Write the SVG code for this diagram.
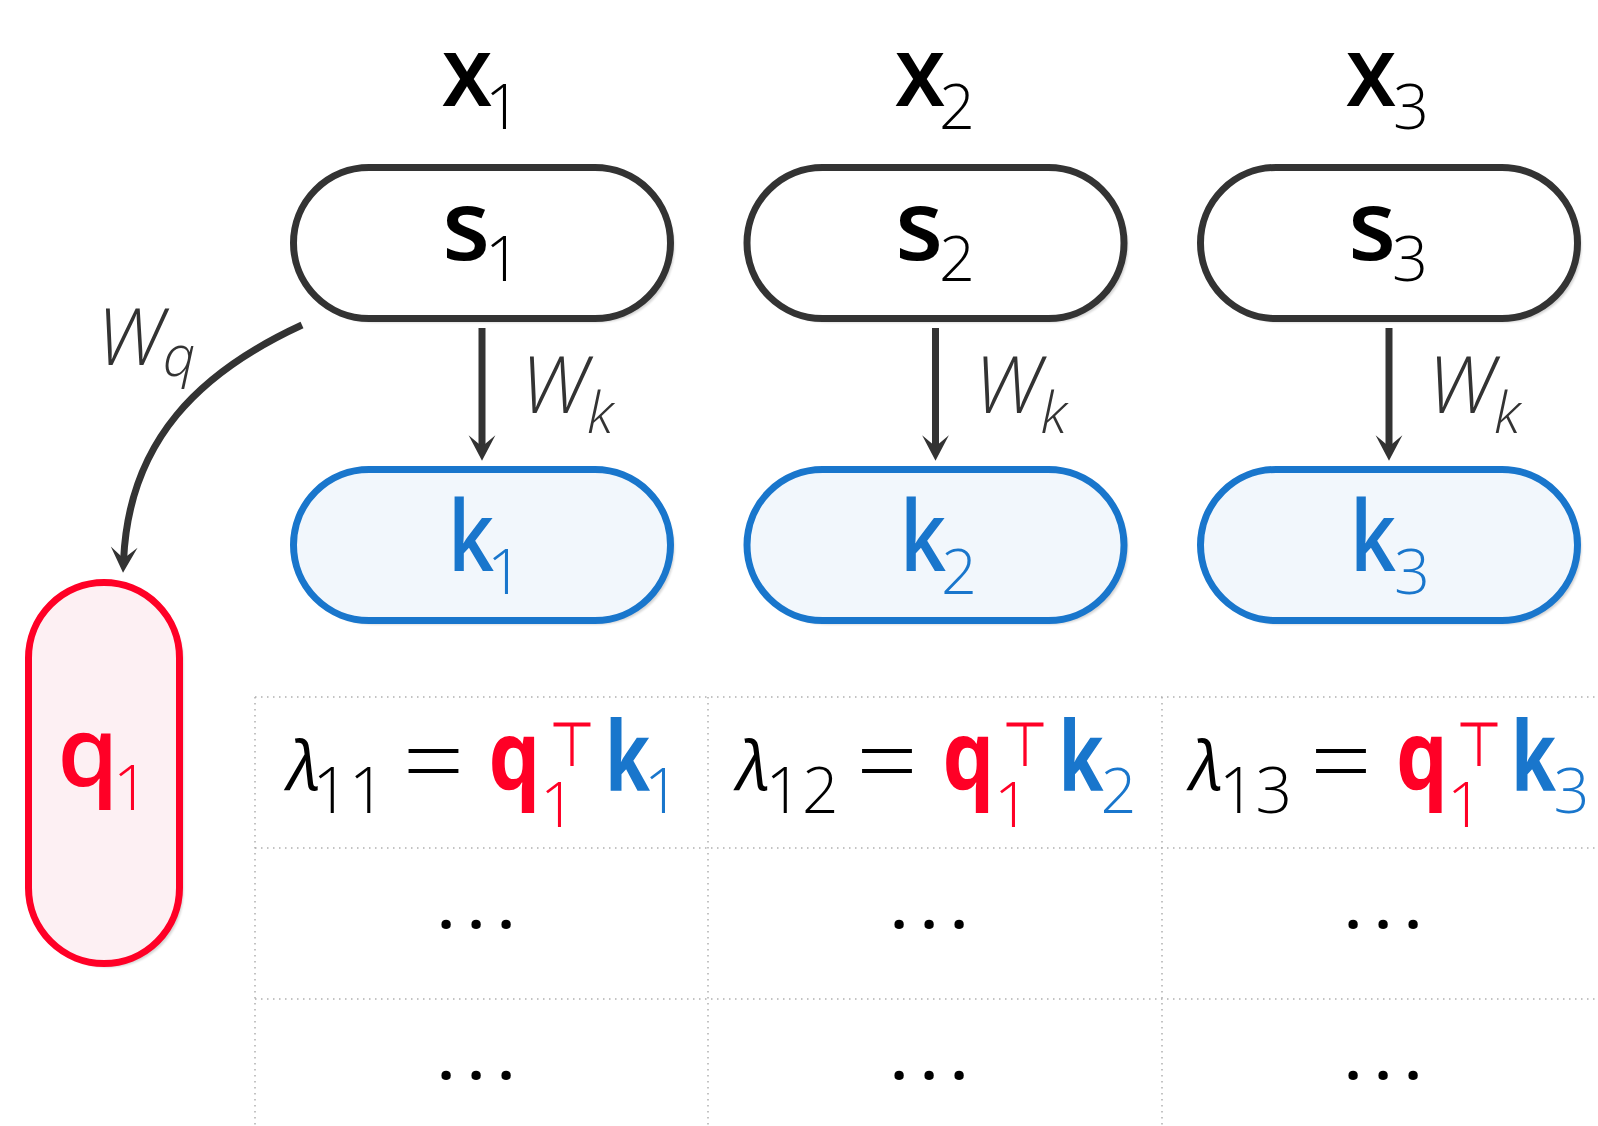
<svg xmlns="http://www.w3.org/2000/svg" width="1598" height="1126" viewBox="0 0 1598 1126">
<defs>
<filter id="blur" x="-10%" y="-10%" width="120%" height="120%"><feGaussianBlur stdDeviation="1.2"/></filter>
<marker id="ah" markerUnits="userSpaceOnUse" markerWidth="30" markerHeight="30" viewBox="-14 -14 28 28" refX="0" refY="0" orient="auto" overflow="visible">
<path d="M12,0 L-12,-12.5 L-1.5,0 L-12,12.5 Z" fill="#333"/>
</marker>
<style>
.sh{fill:#000;opacity:.17;filter:url(#blur)}
.sbox{fill:#fff;stroke:#333;stroke-width:7}
.kbox{fill:#F2F7FC;stroke:#1976CC;stroke-width:7}
.qbox{fill:#FDF0F3;stroke:#FF0026;stroke-width:7}
.m{font-family:"Open Sans","DejaVu Sans",sans-serif;font-weight:600;font-size:98px;text-anchor:middle}
.sub{font-family:"Open Sans","DejaVu Sans",sans-serif;font-weight:300;font-size:63px;text-anchor:middle}
.w{font-family:"Open Sans","DejaVu Sans",sans-serif;font-weight:300;font-style:italic;font-size:80px;text-anchor:middle;fill:#333}
.wsub{font-family:"Open Sans","DejaVu Sans",sans-serif;font-weight:300;font-style:italic;font-size:57px;text-anchor:middle;fill:#333}
.lam{font-family:"Open Sans","DejaVu Sans",sans-serif;font-weight:400;font-style:italic;font-size:68px;text-anchor:middle}
.eq{font-family:"Open Sans","DejaVu Sans",sans-serif;font-weight:300;font-size:97px;text-anchor:middle}
.fb{font-family:"Open Sans","DejaVu Sans",sans-serif;font-weight:700;font-size:97px;text-anchor:middle}
.top{font-family:"DejaVu Sans",sans-serif;font-weight:200;font-size:62px;text-anchor:middle;fill:#FF0026}
.dots{font-family:"Open Sans","DejaVu Sans",sans-serif;font-weight:700;font-size:55px;text-anchor:middle}
.red{fill:#FF0026}
.blue{fill:#1976CC}
.blk{fill:#000}
.grid line{stroke:#b0b0b0;stroke-width:1.5;stroke-dasharray:1.5 4.5}
.edge{fill:none;stroke:#333;stroke-width:7}
</style>
</defs>
<rect width="1598" height="1126" fill="#fff"/>

<g id="grid" class="grid">
<line x1="255" y1="697" x2="1598" y2="697"/>
<line x1="255" y1="848" x2="1598" y2="848"/>
<line x1="255" y1="999" x2="1598" y2="999"/>
<line x1="255" y1="697" x2="255" y2="1126"/>
<line x1="708" y1="697" x2="708" y2="1126"/>
<line x1="1162" y1="697" x2="1162" y2="1126"/>
</g>

<g id="label-x1"><text class="m blk" x="467" y="106" textLength="51" lengthAdjust="spacingAndGlyphs">x</text><text class="sub blk" x="503" y="129">1</text></g>
<g id="label-x2"><text class="m blk" x="920" y="106" textLength="51" lengthAdjust="spacingAndGlyphs">x</text><text class="sub blk" x="957" y="129">2</text></g>
<g id="label-x3"><text class="m blk" x="1371" y="106" textLength="51" lengthAdjust="spacingAndGlyphs">x</text><text class="sub blk" x="1411" y="129">3</text></g>

<g id="s1">
<rect class="sh" x="297.5" y="171.5" width="377" height="151" rx="75.5"/>
<rect class="sbox" x="293.5" y="167.5" width="377" height="151" rx="75.5"/>
<text class="m blk" x="466" y="260">s</text><text class="sub blk" x="503" y="281">1</text>
</g>
<g id="s2">
<rect class="sh" x="751" y="171.5" width="377" height="151" rx="75.5"/>
<rect class="sbox" x="747" y="167.5" width="377" height="151" rx="75.5"/>
<text class="m blk" x="919" y="260">s</text><text class="sub blk" x="957" y="281">2</text>
</g>
<g id="s3">
<rect class="sh" x="1204.5" y="171.5" width="377" height="151" rx="75.5"/>
<rect class="sbox" x="1200.5" y="167.5" width="377" height="151" rx="75.5"/>
<text class="m blk" x="1372" y="260">s</text><text class="sub blk" x="1410" y="281">3</text>
</g>

<g id="k1">
<rect class="sh" x="297.5" y="473.5" width="377" height="151" rx="75.5"/>
<rect class="kbox" x="293.5" y="469.5" width="377" height="151" rx="75.5"/>
<text class="m blue" x="471" y="571" textLength="46" lengthAdjust="spacingAndGlyphs">k</text><text class="sub blue" x="505" y="594">1</text>
</g>
<g id="k2">
<rect class="sh" x="751" y="473.5" width="377" height="151" rx="75.5"/>
<rect class="kbox" x="747" y="469.5" width="377" height="151" rx="75.5"/>
<text class="m blue" x="923" y="571" textLength="46" lengthAdjust="spacingAndGlyphs">k</text><text class="sub blue" x="959" y="594">2</text>
</g>
<g id="k3">
<rect class="sh" x="1204.5" y="473.5" width="377" height="151" rx="75.5"/>
<rect class="kbox" x="1200.5" y="469.5" width="377" height="151" rx="75.5"/>
<text class="m blue" x="1373" y="571" textLength="46" lengthAdjust="spacingAndGlyphs">k</text><text class="sub blue" x="1412" y="594">3</text>
</g>

<g id="q1">
<rect class="sh" x="32.5" y="586.5" width="151" height="381" rx="75.5"/>
<rect class="qbox" x="28.5" y="582.5" width="151" height="381" rx="75.5"/>
<text class="m red" x="88" y="787">q</text><text class="sub red" x="131" y="810">1</text>
</g>

<g id="connectors">
<line class="edge" x1="482" y1="328" x2="482" y2="448" marker-end="url(#ah)"/>
<line class="edge" x1="935.5" y1="328" x2="935.5" y2="448" marker-end="url(#ah)"/>
<line class="edge" x1="1389" y1="328" x2="1389" y2="448" marker-end="url(#ah)"/>
<path class="edge" d="M302,325 C200,372 129,440 123.6,560" marker-end="url(#ah)"/>
<g id="edge-labels">
<text class="w" x="554" y="413">W</text><text class="wsub" x="600" y="433">k</text>
<text class="w" x="1007.5" y="413">W</text><text class="wsub" x="1053.5" y="433">k</text>
<text class="w" x="1461" y="413">W</text><text class="wsub" x="1507" y="433">k</text>
<text class="w" x="130" y="365">W</text><text class="wsub" x="179" y="376">q</text>
</g>
</g>

<g id="cell-11">
<text class="lam blk" x="304" y="790">λ</text><text class="sub blk" x="349" y="813" style="font-size:64px">11</text>
<text class="eq blk" x="433.5" y="796" textLength="62" lengthAdjust="spacingAndGlyphs">=</text>
<text class="fb red" x="514.5" y="790" textLength="52" lengthAdjust="spacingAndGlyphs">q</text><text class="top" x="571.5" y="766" textLength="46" lengthAdjust="spacingAndGlyphs">⊤</text><text class="sub red" x="558" y="827">1</text>
<text class="fb blue" x="627.5" y="791" textLength="45" lengthAdjust="spacingAndGlyphs">k</text><text class="sub blue" x="662" y="813">1</text>
</g>
<g id="cell-12">
<text class="lam blk" x="753.5" y="790">λ</text><text class="sub blk" x="802" y="813" style="font-size:64px">12</text>
<text class="eq blk" x="887" y="796" textLength="62" lengthAdjust="spacingAndGlyphs">=</text>
<text class="fb red" x="968.5" y="790" textLength="52" lengthAdjust="spacingAndGlyphs">q</text><text class="top" x="1025" y="766" textLength="46" lengthAdjust="spacingAndGlyphs">⊤</text><text class="sub red" x="1012" y="827">1</text>
<text class="fb blue" x="1081" y="791" textLength="45" lengthAdjust="spacingAndGlyphs">k</text><text class="sub blue" x="1118.5" y="813">2</text>
</g>
<g id="cell-13">
<text class="lam blk" x="1206.5" y="790">λ</text><text class="sub blk" x="1255.5" y="813" style="font-size:64px">13</text>
<text class="eq blk" x="1341" y="796" textLength="62" lengthAdjust="spacingAndGlyphs">=</text>
<text class="fb red" x="1422" y="790" textLength="52" lengthAdjust="spacingAndGlyphs">q</text><text class="top" x="1478.5" y="766" textLength="46" lengthAdjust="spacingAndGlyphs">⊤</text><text class="sub red" x="1465" y="827">1</text>
<text class="fb blue" x="1533.5" y="791" textLength="45" lengthAdjust="spacingAndGlyphs">k</text><text class="sub blue" x="1571.5" y="813">3</text>
</g>
<g id="dots">
<text class="dots blk" x="476" y="944">· · ·</text>
<text class="dots blk" x="929" y="944">· · ·</text>
<text class="dots blk" x="1383" y="944">· · ·</text>
<text class="dots blk" x="476" y="1095">· · ·</text>
<text class="dots blk" x="929" y="1095">· · ·</text>
<text class="dots blk" x="1383" y="1095">· · ·</text>
</g>
</svg>
